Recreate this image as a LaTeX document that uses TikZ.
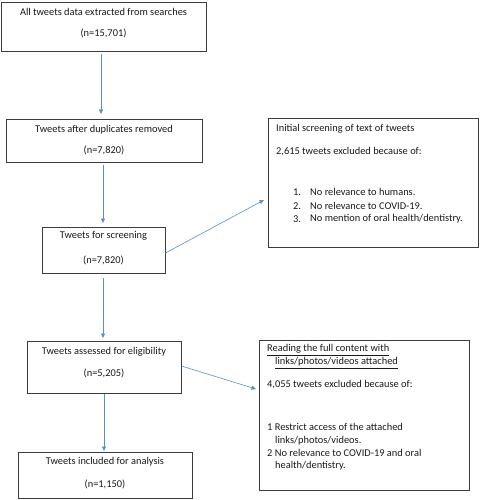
\documentclass[tikz,border=0pt]{standalone}
\usepackage{fontspec}
\setmainfont{Carlito}
\usetikzlibrary{arrows.meta}
\definecolor{arr}{RGB}{91,143,200}
\definecolor{edge}{RGB}{60,60,60}
\tikzset{
  box/.style={draw=edge, line width=0.9pt, inner sep=0pt},
  txt/.style={font=\fontsize{10.4}{12}\selectfont, inner sep=0pt, text=black!90},
  ltxt/.style={txt, anchor=west},
  flow/.style={draw=arr, line width=0.6pt, -{Triangle[length=4.5pt,width=4pt]}, shorten >=0pt}
}
\begin{document}
\begin{tikzpicture}[x=1pt,y=-1pt]
\useasboundingbox (0,0) rectangle (479,500);
% left boxes
\node[box, minimum width=205, minimum height=49] (b1) at (103.5,26.5) {};
\node[box, minimum width=196, minimum height=43] (b2) at (104,140.5) {};
\node[box, minimum width=123, minimum height=46] (b3) at (103.5,250) {};
\node[box, minimum width=154, minimum height=52] (b4) at (104,367) {};
\node[box, minimum width=174, minimum height=46] (b5) at (105,475) {};
% right boxes
\node[box, minimum width=210, minimum height=129] (r1) at (373,182.5) {};
\node[box, minimum width=210, minimum height=150] (r2) at (364,415) {};
% texts left
\node[txt] (t1a) at (103.5,12) {All tweets data extracted from searches};
\node[txt] (t1b) at (103.5,33) {(n=15,701)};
\node[txt] (t2a) at (104,130) {Tweets after duplicates removed};
\node[txt] (t2b) at (104,150) {(n=7,820)};
\node[txt] (t3a) at (103.5,236) {Tweets for screening};
\node[txt] (t3b) at (103.5,260) {(n=7,820)};
\node[txt] (t4a) at (104,352) {Tweets assessed for eligibility};
\node[txt] (t4b) at (104,373) {(n=5,205)};
\node[txt] (t5a) at (105,462) {Tweets included for analysis};
\node[txt] (t5b) at (105,484) {(n=1,150)};
% texts right 1
\node[ltxt] (r1a) at (276,129) {Initial screening of text of tweets};
\node[ltxt] (r1b) at (276,152) {2,615 tweets excluded because of:};
\node[ltxt] (r1n1) at (293,192) {1.};
\node[ltxt] (r1n2) at (293,206) {2.};
\node[ltxt] (r1n3) at (293,219) {3.};
\node[ltxt] (r1i1) at (310,192) {No relevance to humans.};
\node[ltxt] (r1i2) at (310,206) {No relevance to COVID-19.};
\node[ltxt] (r1i3) at (310,219) {No mention of oral health/dentistry.};
% texts right 2
\node[ltxt] (r2a) at (267,350) {\underline{Reading the full content with}};
\node[ltxt] (r2b) at (275,363) {\underline{links/photos/videos attached}};
\node[ltxt] (r2c) at (267,385) {4,055 tweets excluded because of:};
\node[ltxt] (r2d) at (267,427) {1 Restrict access of the attached};
\node[ltxt] (r2e) at (275,441) {links/photos/videos.};
\node[ltxt] (r2f) at (267,453) {2 No relevance to COVID-19 and oral};
\node[ltxt] (r2g) at (275,466) {health/dentistry.};
% arrows
\coordinate (a1e) at (101,114);
\draw[flow] (101,54) -- (a1e);
\draw[flow] (103,165) -- (103,223);
\draw[flow] (103,278) -- (103,338);
\draw[flow] (104,394) -- (104,451);
\coordinate (d1e) at (264,200);
\coordinate (d2e) at (256,389);
\draw[flow] (b3.east |- 0,253) -- (d1e);
\draw[flow] (b4.east |- 0,366) -- (d2e);
\end{tikzpicture}
\end{document}
